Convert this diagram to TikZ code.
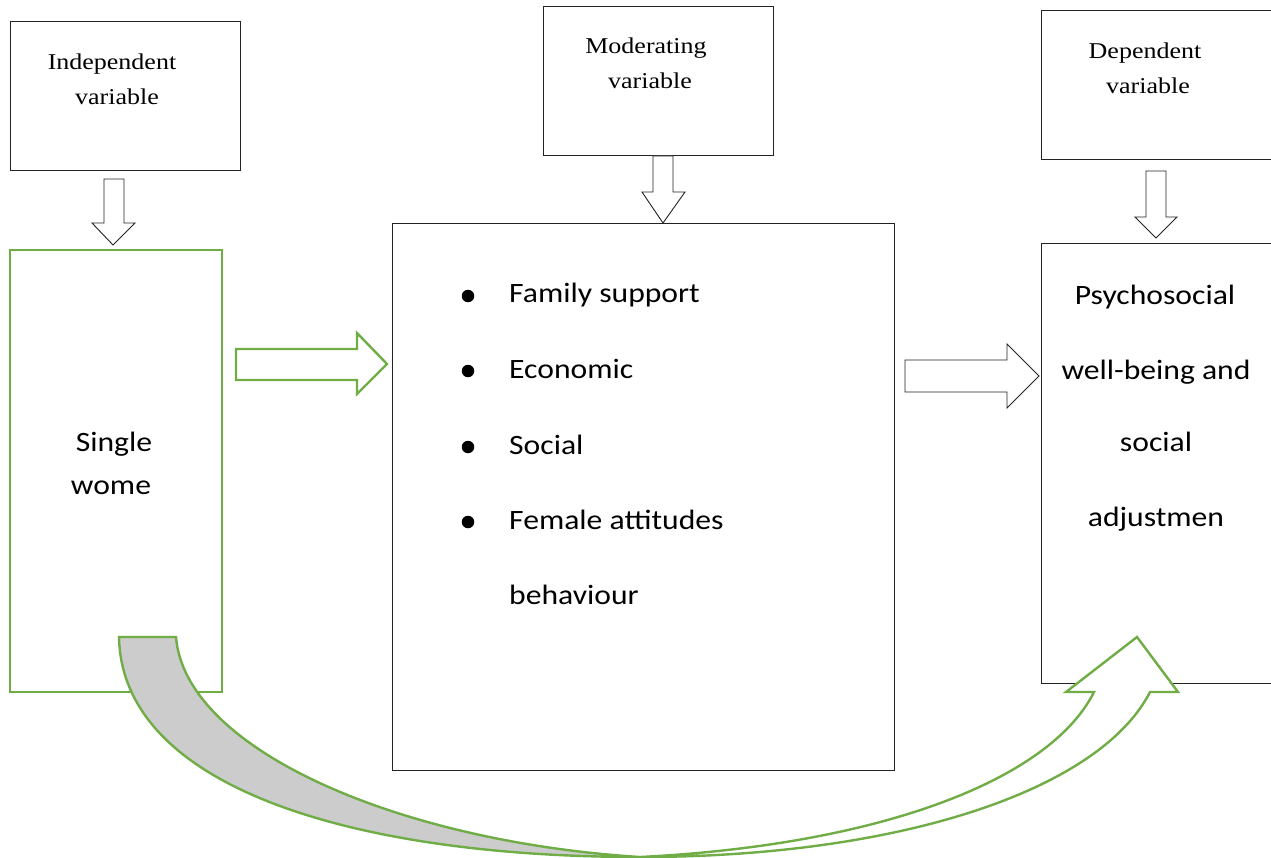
\documentclass[tikz,border=0pt]{standalone}
\usepackage{fontspec}
\newfontfamily\serifF[FakeStretch=1.15]{Liberation Serif}
\newfontfamily\calF[FakeStretch=1.13]{Carlito}
\definecolor{grn}{RGB}{112,173,71}
\definecolor{shade}{RGB}{204,204,204}
\definecolor{edge}{RGB}{35,35,35}
\tikzset{
  box/.style={draw=edge, line width=1pt, fill=white},
  gbox/.style={draw=grn, line width=2.4pt, fill=white},
  blk/.style={draw=edge, line width=0.9pt, fill=white, line join=miter},
  garrow/.style={draw=grn, line width=2.4pt, fill=white, line join=miter},
  toplbl/.style={anchor=base, inner sep=0pt, font=\serifF\fontsize{22.6}{27}\selectfont},
  mainlbl/.style={anchor=base, inner sep=0pt, font=\calF\fontsize{28}{33}\selectfont},
  itemlbl/.style={anchor=base west, inner sep=0pt, font=\calF\fontsize{28}{33}\selectfont},
  bul/.style={circle, fill=black, inner sep=0pt, minimum size=12.5pt}
}
\begin{document}
\begin{tikzpicture}[x=1pt, y=-1pt]
\useasboundingbox (0,0) rectangle (1271,858);
% top boxes
\draw[box] (10,22) rectangle (240,171);
\draw[box] (543,7) rectangle (773,156);
\draw[box] (1041,11) rectangle (1271,160);
\node[toplbl] (ind1) at (112,70) {Independent};
\node[toplbl] (ind2) at (117,105) {variable};
\node[toplbl] (mod1) at (646,54) {Moderating};
\node[toplbl] (mod2) at (650,89) {variable};
\node[toplbl] (dep1) at (1145,59) {Dependent};
\node[toplbl] (dep2) at (1148,94) {variable};
% main boxes
\draw[gbox] (10,250) rectangle (222,692);
\draw[box] (392,224) rectangle (894,770);
\draw[box] (1041,244) rectangle (1271,683);
% down arrows
\draw[blk] (104,179) -- (124,179) -- (124,223) -- (135,223) -- (113,245) -- (92,223) -- (104,223) -- cycle;
\draw[blk] (653,156) -- (673,156) -- (673,192) -- (685,192) -- (663,223) -- (642,192) -- (653,192) -- cycle;
\draw[blk] (1146,171) -- (1166,171) -- (1166,217) -- (1177,217) -- (1156,238) -- (1135,217) -- (1146,217) -- cycle;
% right arrows
\draw[garrow] (236,349) -- (357,349) -- (357,333) -- (387,364) -- (357,394) -- (357,380) -- (236,380) -- cycle;
\draw[blk] (905,360) -- (1007,360) -- (1007,344) -- (1039,376) -- (1007,408) -- (1007,392) -- (905,392) -- cycle;
% curved arrow: back (shaded) part
\coordinate (cbot) at (640,857);
\draw[draw=grn, line width=2.4pt, fill=shade, line join=miter]
  (119,637) -- (176,637) .. controls (185,750) and (400,842) .. (cbot)
  .. controls (360,857) and (122,790) .. (119,637) -- cycle;
% front part with head
\draw[draw=grn, line width=2.4pt, fill=white, line join=miter]
  (cbot) .. controls (880,845) and (1050,780) .. (1094,692)
  -- (1066,692) -- (1137,637) -- (1178,692) -- (1150,692)
  .. controls (1100,790) and (900,857) .. (cbot);
% texts
\node[mainlbl] (sw1) at (114,451) {Single};
\node[mainlbl] (sw2) at (111,494) {wome};
\node[bul] (b1) at (468,296) {};
\node[bul] (b2) at (468,371) {};
\node[bul] (b3) at (468,447) {};
\node[bul] (b4) at (468,522) {};
\node[itemlbl] (i1) at (509,303) {Family support};
\node[itemlbl] (i2) at (509,378) {Economic};
\node[itemlbl] (i3) at (509,454) {Social};
\node[itemlbl] (i4) at (509,529) {Female attitudes};
\node[itemlbl] (i5) at (509,604) {behaviour};
\node[mainlbl] (p1) at (1155,305) {Psychosocial};
\node[mainlbl] (p2) at (1156,379) {well-being and};
\node[mainlbl] (p3) at (1156,451) {social};
\node[mainlbl] (p4) at (1156,526) {adjustmen};
\end{tikzpicture}
\end{document}
